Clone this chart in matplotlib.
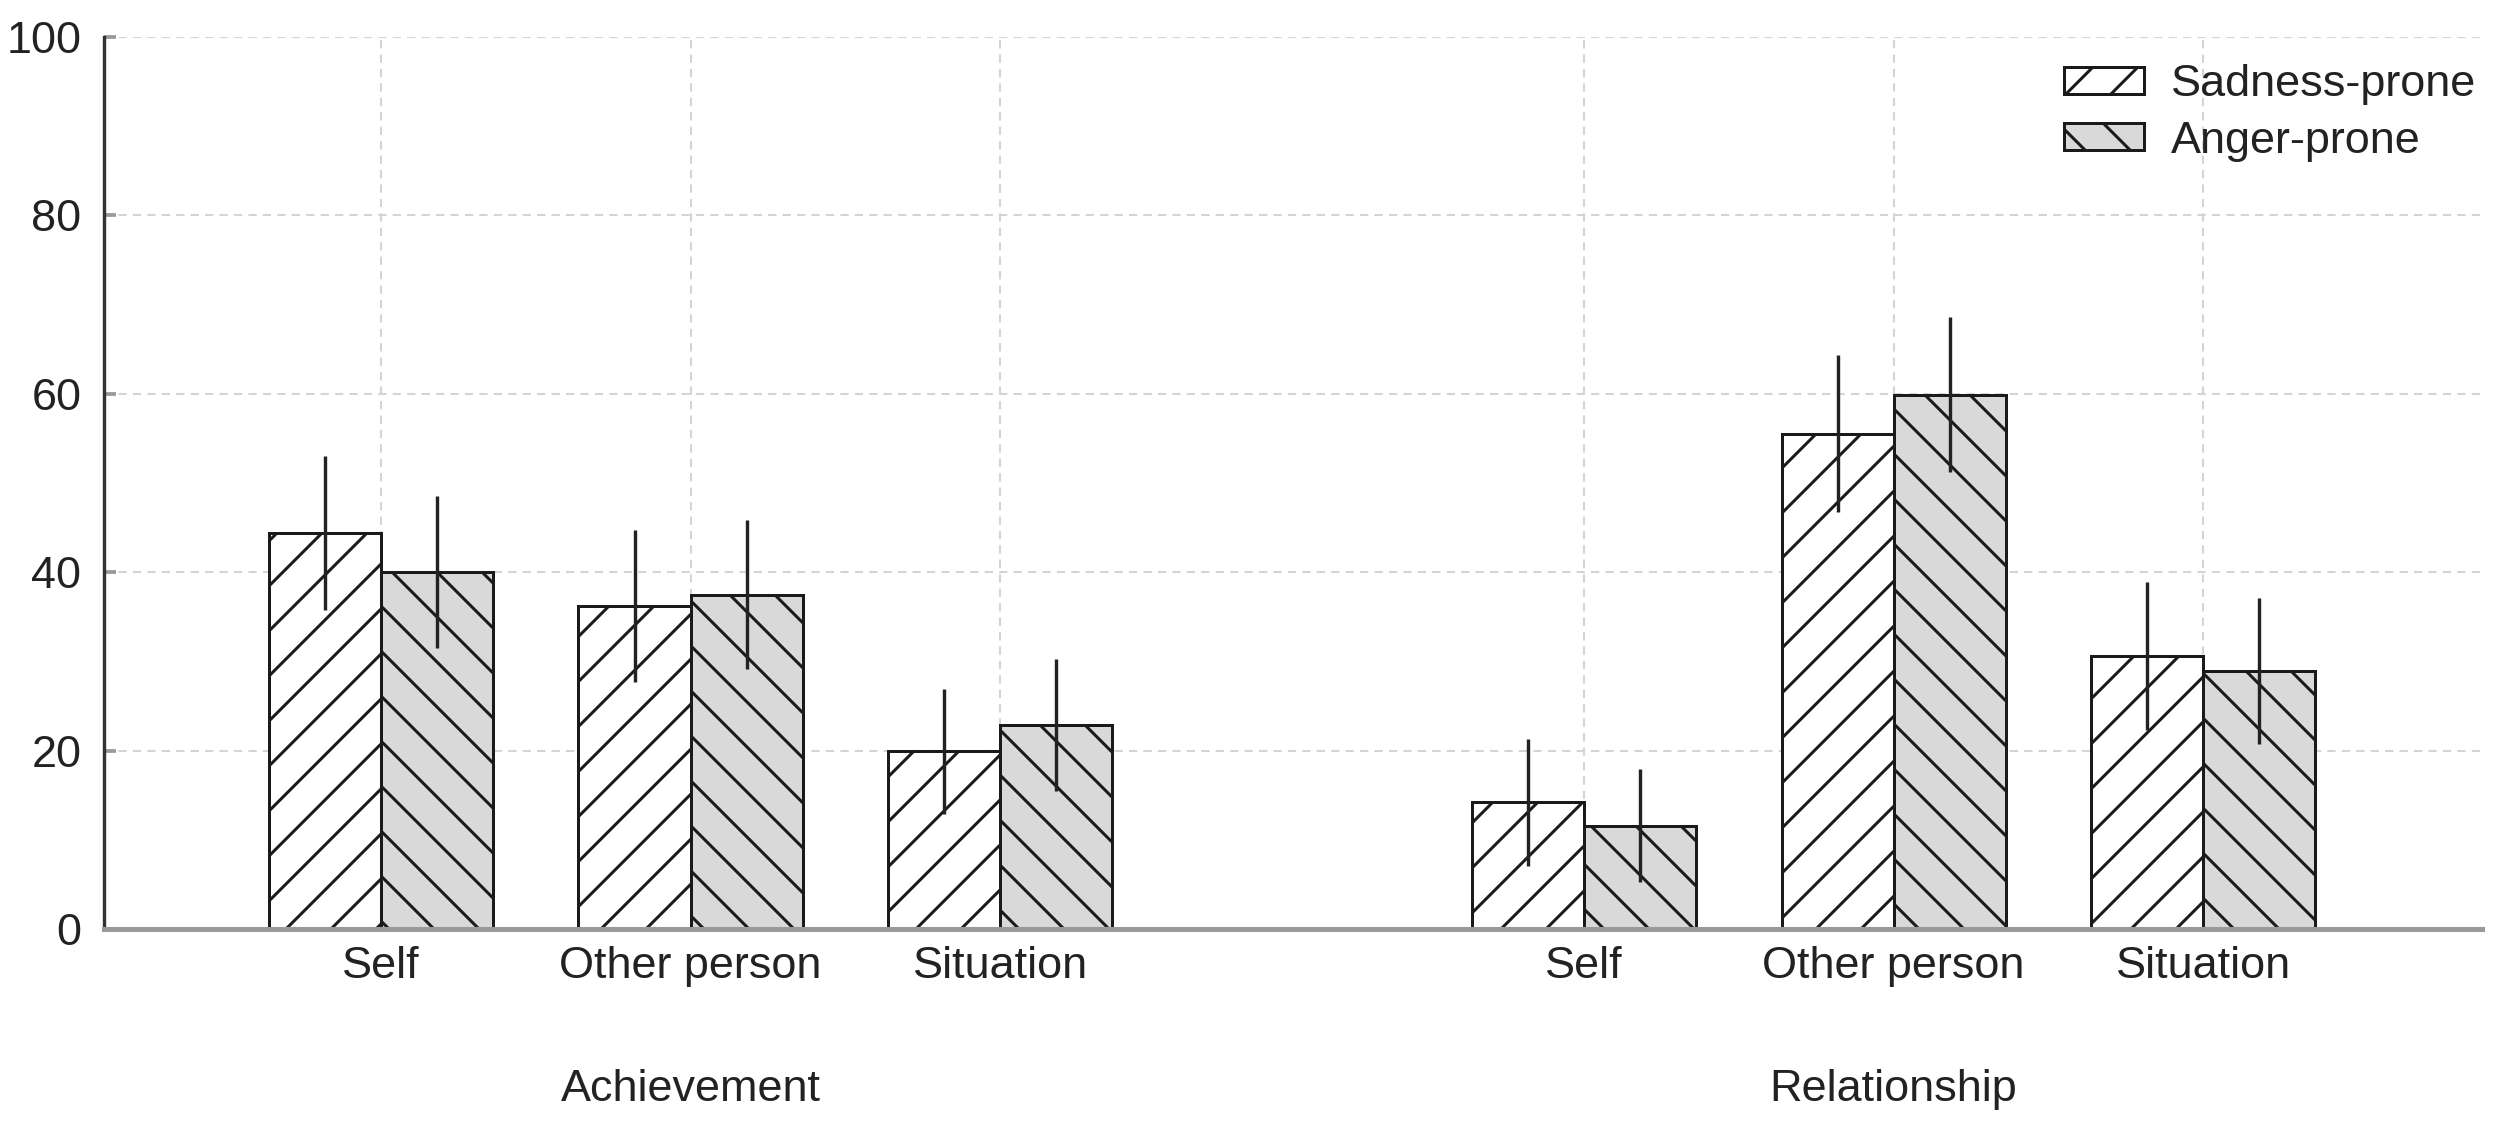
import numpy as np
import matplotlib
matplotlib.use('Agg')
import matplotlib.pyplot as plt
import matplotlib.transforms as mtransforms

# ---------- data ----------
domains = ['Achievement', 'Relationship']
categories = ['Self', 'Other person', 'Situation']
sadness = [44.4, 36.2, 19.9, 14.2, 55.5, 30.6]
anger = [40.0, 37.5, 22.9, 11.6, 59.9, 28.9]
sadness_err = [8.6, 8.5, 7.0, 7.1, 8.8, 8.3]
anger_err = [8.5, 8.4, 7.4, 6.3, 8.7, 8.2]
yticks = [0, 20, 40, 60, 80, 100]

# ---------- layout ----------
DPI = 135
plt.rcParams['font.family'] = ['Liberation Sans', 'DejaVu Sans']
plt.rcParams['hatch.linewidth'] = 1.6
plt.rcParams['hatch.color'] = '#262626'

fig = plt.figure(figsize=(2509 / DPI, 1130 / DPI), dpi=DPI)
ax = fig.add_axes([104 / 2509, 1 - 929 / 1130, (2482 - 104) / 2509, (929 - 37) / 1130])

group_gap = 1.887
x = np.concatenate([np.arange(3), np.arange(3) + 2 + group_gap])
w = 0.362

ax.bar(x - w / 2, sadness, w, color='white', edgecolor='#1a1a1a', linewidth=1.6,
       hatch='/', label='Sadness-prone', zorder=3)
ax.bar(x + w / 2, anger, w, color='#d9d9d9', edgecolor='#1a1a1a', linewidth=1.6,
       hatch='\\', label='Anger-prone', zorder=3)
ax.errorbar(x - w / 2, sadness, yerr=sadness_err, fmt='none', ecolor='#222222',
            elinewidth=1.8, capsize=0, zorder=4)
ax.errorbar(x + w / 2, anger, yerr=anger_err, fmt='none', ecolor='#222222',
            elinewidth=1.8, capsize=0, zorder=4)

ax.set_xlim(-0.895, 6.788)
ax.set_ylim(0, 100)
ax.set_yticks(yticks)
ax.set_xticks(x)
ax.set_xticklabels(categories * 2)

ax.tick_params(axis='x', length=0, pad=9, labelsize=24, labelcolor='#222222')
ax.tick_params(axis='y', direction='in', length=6.5, width=2, color='#999999',
               pad=12, labelsize=24, labelcolor='#222222')

ax.grid(True, color='#d4d4d4', linestyle=(0, (4, 3)), linewidth=1.1, zorder=0)
ax.set_axisbelow(True)

for s in ['top', 'right']:
    ax.spines[s].set_visible(False)
ax.spines['left'].set_color('#333333')
ax.spines['left'].set_linewidth(1.8)
ax.spines['bottom'].set_color('#9a9a9a')
ax.spines['bottom'].set_linewidth(2.7)
ax.spines['bottom'].set_zorder(5)

trans = mtransforms.blended_transform_factory(ax.transData, ax.transAxes)
for i, d in enumerate(domains):
    ax.text(x[3 * i + 1], -0.18, d, transform=trans, ha='center', va='center',
            fontsize=24, color='#222222')

leg = ax.legend(loc='upper left', bbox_to_anchor=(2064 / 2509, 1 - 64 / 1130),
                bbox_transform=fig.transFigure, frameon=False, fontsize=24,
                handlelength=1.78, handleheight=0.55, handletextpad=0.6,
                labelspacing=0.35, borderpad=0, borderaxespad=0)
for t in leg.get_texts():
    t.set_color('#222222')

fig.savefig('out.png', dpi=DPI, facecolor='white')
